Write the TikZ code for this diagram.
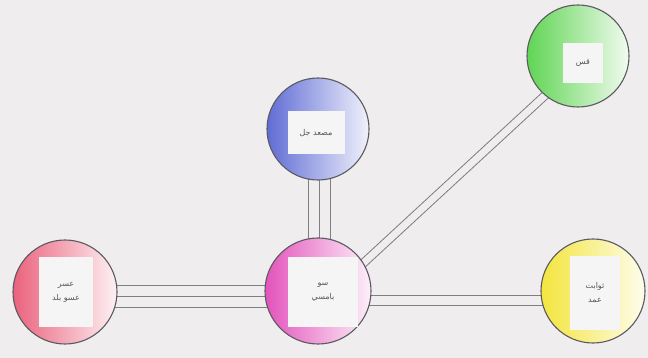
\documentclass[tikz,border=0pt]{standalone}
\usepackage{fontspec}
\newfontfamily\arabicfont[Script=Arabic]{DejaVu Sans}
\TeXXeTstate=1
\usetikzlibrary{backgrounds}
\definecolor{bgc}{HTML}{EFEDEE}
\definecolor{bondc}{HTML}{7E7E84}
\definecolor{rimc}{HTML}{5A5A60}
\definecolor{cred}{HTML}{E8506E}
\definecolor{cpink}{HTML}{E040B4}
\definecolor{cblue}{HTML}{4E5CD0}
\definecolor{cgreen}{HTML}{4ED040}
\definecolor{cyel}{HTML}{F2E226}
\definecolor{txtc}{HTML}{55555A}
\begin{document}
\begin{tikzpicture}[x=1pt,y=-1pt,
  ball/.style={circle, draw=rimc, line width=1.1pt, inner sep=0pt,
    minimum size=#1},
  tint/.style={left color=#1!90!white, middle color=#1!40!white, right color=#1!8!white},
  lbl/.style={fill=white!92!gray, inner sep=0pt, align=center,
    text=txtc, font=\arabicfont\fontsize{8}{14}\selectfont},
  bond/.style={draw=bondc, line width=1pt},
  dbond/.style={bond, double=bgc, double distance=#1}]
\useasboundingbox (0,0) rectangle (648,358);
% circles
\node[ball=104pt, tint=cred]   (red)    at (65,292)  {};
\node[ball=106pt, tint=cpink]  (pink)   at (318,291) {};
\node[ball=102pt, tint=cblue]  (blue)   at (318,129) {};
\node[ball=102pt, tint=cgreen] (green)  at (578,56)  {};
\node[ball=104pt, tint=cyel]   (yellow) at (593,291) {};
% labels
\node[lbl, minimum width=54pt, minimum height=69pt] (redL) at (66,292)
  {\beginR عسر\endR\\ \beginR عسو بلد\endR};
\node[lbl, minimum width=70pt, minimum height=69pt] (pinkL) at (323,292)
  {\beginR سو\endR\\ \beginR بامسي\endR};
\node[lbl, minimum width=57pt, minimum height=43pt] (blueL) at (316,133)
  {\beginR مصعد جل\endR};
\node[lbl, minimum width=40pt, minimum height=40pt] (greenL) at (583,63)
  {\beginR قس\endR};
\node[lbl, minimum width=50pt, minimum height=73pt] (yellowL) at (595,293)
  {\beginR ثوابت\endR\\ \beginR عمد\endR};
% background and connectors
\begin{scope}[on background layer]
  \fill[bgc] (0,0) rectangle (648,358);
  % red - pink : triple
  \draw[dbond=21pt] ([yshift=-4pt]red.center) -- ([yshift=-5pt]pink.center);
  \draw[bond] ([yshift=-4pt]red.center) -- ([yshift=-5pt]pink.center);
  % pink - blue : triple
  \draw[dbond=21pt] ([xshift=1pt]pink.center) -- ([xshift=1pt]blue.center);
  \draw[bond] ([xshift=1pt]pink.center) -- ([xshift=1pt]blue.center);
  % pink - yellow : double
  \draw[dbond=9pt] ([yshift=-9pt]pink.center) -- ([yshift=-9pt]yellow.center);
  % pink - green : double
  \draw[dbond=7pt] ([yshift=-14pt]pink.center) -- ([yshift=-9pt]green.center);
\end{scope}
\end{tikzpicture}
\end{document}
